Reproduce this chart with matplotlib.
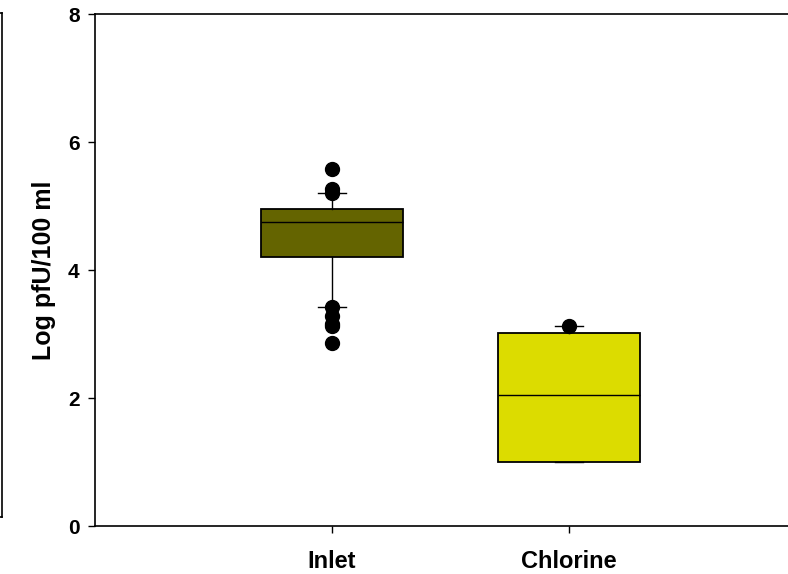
import matplotlib.pyplot as plt
from matplotlib.lines import Line2D

plt.rcParams['font.family'] = ['Liberation Sans', 'DejaVu Sans']
plt.rcParams['font.weight'] = 'bold'

# box statistics (log pfU/100 ml)
labels = ["Inlet", "Chlorine"]
q1 = [4.20, 1.00]
medians = [4.75, 2.05]
q3 = [4.95, 3.01]
whis_lo = [3.42, 1.00]
whis_hi = [5.20, 3.12]
fliers = [[5.58, 5.27, 5.20, 3.42, 3.28, 3.15, 3.12, 2.86], [3.12]]
colors = ["#646400", "#DCDC00"]

stats = []
for i in range(len(labels)):
    stats.append(dict(label=labels[i], q1=q1[i], med=medians[i], q3=q3[i],
                      whislo=whis_lo[i], whishi=whis_hi[i], fliers=fliers[i]))

fig = plt.figure(figsize=(7.88, 5.74), dpi=100)
ax = fig.add_axes([95 / 788, 48 / 574, 711 / 788, 512 / 574])

bp = ax.bxp(stats, positions=[1, 2], widths=0.6, patch_artist=True,
            capwidths=0.12,
            boxprops=dict(edgecolor='black', linewidth=1.3),
            medianprops=dict(color='black', linewidth=1.0),
            whiskerprops=dict(color='black', linewidth=1.0),
            capprops=dict(color='black', linewidth=1.0),
            flierprops=dict(marker='o', markerfacecolor='black',
                            markeredgecolor='black', markersize=10))
for patch, c in zip(bp['boxes'], colors):
    patch.set_facecolor(c)

ax.set_xlim(0, 3)
ax.set_ylim(0, 8)
ax.set_yticks([0, 2, 4, 6, 8])
ax.set_xticks([1, 2])
ax.set_xticklabels(labels, fontsize=17, fontweight='bold')
ax.tick_params(axis='y', labelsize=15, direction='out', length=5, width=1, pad=6)
ax.tick_params(axis='x', direction='out', length=5, width=1, pad=12)
for lab in ax.get_yticklabels():
    lab.set_fontweight('bold')
for s in ax.spines.values():
    s.set_linewidth(1.2)

ax.set_ylabel("Log pfU/100 ml", fontsize=18, fontweight='bold', labelpad=9)

# leftover frame edge at the far left of the picture
fig.add_artist(Line2D([2 / 788, 2 / 788], [1 - 13 / 574, 1 - 517 / 574],
                      transform=fig.transFigure, color='black', linewidth=1.2))
fig.add_artist(Line2D([0, 2 / 788], [1 - 13 / 574, 1 - 13 / 574],
                      transform=fig.transFigure, color='black', linewidth=1.2))
fig.add_artist(Line2D([0, 2 / 788], [1 - 517 / 574, 1 - 517 / 574],
                      transform=fig.transFigure, color='black', linewidth=1.2))

plt.savefig("out.png", dpi=100)
